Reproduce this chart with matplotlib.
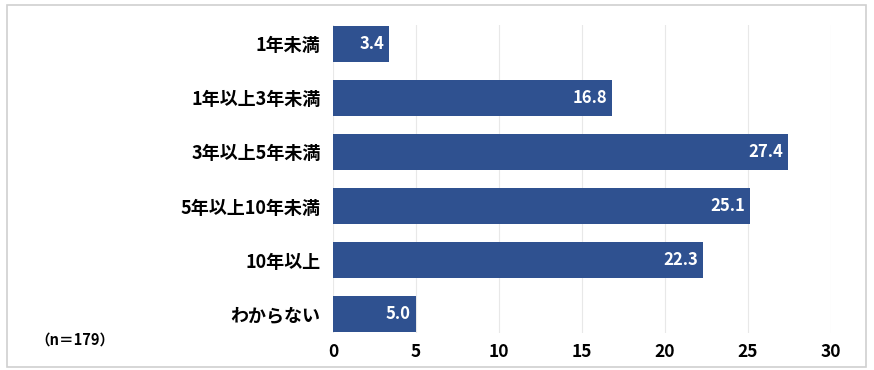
import matplotlib
matplotlib.use("Agg")
import matplotlib.pyplot as plt
from matplotlib.patches import Rectangle

plt.rcParams['font.family'] = ['Noto Sans CJK JP', 'DejaVu Sans']

categories = ["1年未満", "1年以上3年未満", "3年以上5年未満", "5年以上10年未満", "10年以上", "わからない"]
values = [3.4, 16.8, 27.4, 25.1, 22.3, 5.0]
xticks = [0, 5, 10, 15, 20, 25, 30]
note = "（n＝179）"

bar_color = "#2F5190"
W = "bold"

fig = plt.figure(figsize=(8.74, 3.70), dpi=100)
ax = fig.add_axes([333/874, 1 - 333/370, (831 - 333)/874, (333 - 25)/370])

y = list(range(len(categories)))
bars = ax.barh(y, values, height=0.66, color=bar_color, zorder=3)

for yi, v in zip(y, values):
    ax.text(v - 0.3, yi, f"{v:.1f}", ha="right", va="center", color="white",
            fontsize=12, fontweight=W, zorder=4)

ax.set_ylim(len(categories) - 1 + 0.35, -0.35)
ax.set_xlim(0, 30)
ax.set_xticks(xticks)
ax.set_xticklabels([str(t) for t in xticks], fontsize=12.5, fontweight=W)
ax.set_yticks(y)
ax.set_yticklabels(categories, fontsize=13, fontweight=W)
ax.tick_params(axis="both", length=0)
ax.tick_params(axis="y", pad=9)
ax.tick_params(axis="x", pad=7)
ax.xaxis.grid(True, color="#E8E8E8", linewidth=0.8, zorder=0)
for s in ax.spines.values():
    s.set_visible(False)

fig.text(35/874, 1 - 340/370, note, fontsize=10.5, fontweight=W, va="center", ha="left")

fig.patches.append(Rectangle((7/874, 1 - 367/370), (866 - 7)/874, (367 - 5)/370,
                             transform=fig.transFigure, fill=False,
                             edgecolor="#D0D0D0", linewidth=1.2))

fig.savefig("out.png", dpi=100)
